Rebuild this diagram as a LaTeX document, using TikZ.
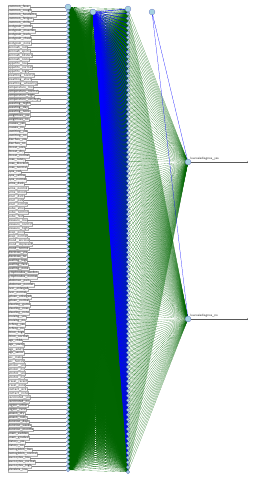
\documentclass[tikz,border=0pt]{standalone}
\usetikzlibrary{backgrounds}
\definecolor{wgreen}{RGB}{0,100,0}
\definecolor{wnode}{RGB}{165,210,225}
\begin{document}
\begin{tikzpicture}[x=0.05cm, y=-0.05cm,
  every node/.style={font=\sffamily\fontsize{4.6}{5}\selectfont},
  neu/.style={circle, draw=gray!60!blue, fill=wnode, inner sep=0pt, minimum size=0.18cm, line width=0.2pt},
  big/.style={neu, minimum size=0.3cm},
  lab/.style={draw=gray!60, fill=gray!6, anchor=west, inner sep=0.3pt, minimum height=0.19cm, text=gray!30!black},
  gline/.style={wgreen, line width=0.13pt},
  bline/.style={blue, line width=0.6pt}
]
\useasboundingbox (0,0) rectangle (254,480);

% input layer with labels
\foreach \lab [count=\i] in {common\_fever, common\_cough, common\_headache, common\_fatigue, common\_chills,
  bodypain\_joints, bodypain\_muscles, bodypain\_back, bodypain\_chest, bodypain\_none,
  skinrash\_red, skinrash\_spots, skinrash\_blisters, skinrash\_none,
  appetite\_low, appetite\_normal, appetite\_high,
  breathing\_normal, breathing\_short, breathing\_wheezing,
  temperature\_low, temperature\_normal, temperature\_high, temperature\_veryhigh,
  sweating\_night, sweating\_day, sweating\_none,
  weightloss\_yes, weightloss\_no, nausea\_yes, nausea\_no, vomiting\_yes, vomiting\_no,
  diarrhea\_yes, diarrhea\_no, throat\_sore, throat\_dry, throat\_normal,
  nose\_runny, nose\_blocked, nose\_normal, eyes\_red, eyes\_yellow, eyes\_normal,
  urine\_dark, urine\_normal, urine\_blood, stool\_dark, stool\_pale, stool\_normal,
  pulse\_slow, pulse\_normal, pulse\_fast, pressure\_low, pressure\_normal, pressure\_high,
  sleep\_poor, sleep\_normal, mood\_anxious, mood\_depressed, mood\_normal,
  dizziness\_yes, dizziness\_no, swelling\_legs, swelling\_face, swelling\_none,
  lymphnodes\_swollen, lymphnodes\_normal, abdomen\_pain, abdomen\_normal,
  liver\_enlarged, liver\_normal, spleen\_enlarged, spleen\_normal,
  bleeding\_gums, bleeding\_nose, bleeding\_none, bruising\_yes, bruising\_no,
  itching\_yes, itching\_no, thirst\_high, thirst\_normal,
  age\_child, age\_young, age\_adult, age\_senior, sex\_male, sex\_female,
  smoker\_yes, smoker\_no, alcohol\_yes, alcohol\_no, travel\_recent, travel\_none,
  contact\_sick, contact\_none, vaccinated\_yes, vaccinated\_no,
  region\_urban, region\_rural, season\_dry, season\_rainy,
  duration\_days, duration\_weeks, duration\_months, onset\_sudden, onset\_gradual,
  history\_yes, history\_no, hemoglobin\_low, hemoglobin\_normal,
  leucocytes\_low, leucocytes\_normal, leucocytes\_high, platelets\_low}{
  \ifnum\i=1 \def\sz{big}\else\def\sz{neu}\fi
  \node[\sz] (i\i) at (68, {7+(\i-1)*4.026}) {};
  \node[lab] (l\i) at (8, {7+(\i-1)*4.026}) {\lab};
  \draw[gray, line width=0.3pt] (l\i) -- (i\i);
}

% hidden layer
\foreach \j in {1,...,98}{
  \ifnum\j=1 \def\sz{big}\else\def\sz{neu}\fi
  \node[\sz] (h\j) at (128, {9+(\j-1)*4.773}) {};
}
\node[big] (a) at (93,12) {};
\node[big] (b) at (152,12) {};

% outputs
\node[big] (o1) at (188,162) {};
\node[big] (o2) at (188,319) {};
\node[anchor=south west, inner sep=0.5pt, text=gray!30!black] (t1) at (190,161) {leucosisdiagnos\_yes};
\node[anchor=south west, inner sep=0.5pt, text=gray!30!black] (t2) at (190,318) {leucosisdiagnos\_no};
\coordinate (e1) at (248,162);
\coordinate (e2) at (248,319);
\draw[->, gray!70!black, line width=0.4pt] (o1) -- (e1);
\draw[->, gray!70!black, line width=0.4pt] (o2) -- (e2);

% weights
\begin{scope}[on background layer]
\foreach \i in {1,...,116}{
  \draw[gline] (i\i.center) -- (a.center) \foreach \j in {1,...,98}{ (i\i.center) -- (h\j.center)};
}
\foreach \j in {1,...,98}
  \draw[bline] (a.center) -- (h\j.center);
\foreach \j in {1,...,98}
  \draw[gline] (h\j.center) -- (o1.center) (h\j.center) -- (o2.center);
\draw[bline, line width=0.3pt] (b.center) -- (o1.center) (b.center) -- (o2.center);
\end{scope}
\end{tikzpicture}
\end{document}
